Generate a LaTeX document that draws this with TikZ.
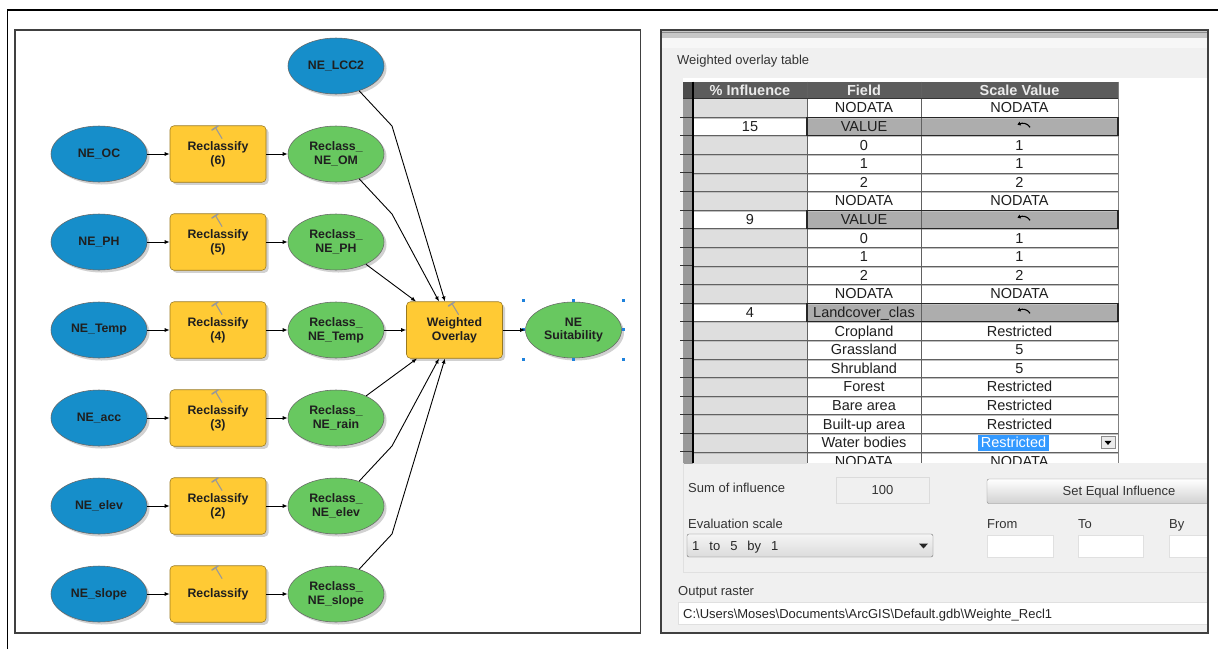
\documentclass[tikz,border=0pt]{standalone}
\usepackage{fontspec}
\setmainfont{Liberation Sans}
\usetikzlibrary{shapes.geometric,shadows,arrows.meta,calc}
\definecolor{mblue}{RGB}{22,142,202}
\definecolor{myellow}{RGB}{255,202,52}
\definecolor{mgreen}{RGB}{104,200,96}
\definecolor{selblue}{RGB}{51,153,255}
\definecolor{panelgray}{RGB}{240,240,240}
\definecolor{dotblue}{RGB}{30,130,220}
\tikzset{
  model/.style={font=\bfseries\fontsize{12.3}{13.8}\selectfont, text=black!88, align=center,
    inner sep=0pt, draw=black!60, line width=0.55pt,
    drop shadow={shadow xshift=2.5pt,shadow yshift=-2.5pt,fill=black!45,opacity=0.4}},
  dataell/.style={model, ellipse, minimum width=96pt, minimum height=56pt, fill=mblue},
  outell/.style={model, ellipse, minimum width=96pt, minimum height=56pt, fill=mgreen},
  toolbox/.style={model, rectangle, rounded corners=4pt, minimum width=96pt, minimum height=56.5pt,
    fill=myellow, draw=black!40!myellow},
  arr/.style={black, line width=0.9pt, -{Latex[length=5pt,width=4pt]}},
  cell/.style={font=\fontsize{14.5}{16}\selectfont, text=black!88, inner sep=0pt, anchor=base},
  hcell/.style={font=\bfseries\fontsize{14.5}{16}\selectfont, text=black!8, inner sep=0pt, anchor=base},
  ui/.style={font=\fontsize{13}{15}\selectfont, text=black!80, inner sep=0pt, anchor=base west},
  hdot/.style={fill=dotblue, inner sep=0pt, minimum size=3pt, rectangle},
  hammer/.style={black!40, line width=1.1pt, line cap=round},
}
\begin{document}
\begin{tikzpicture}[x=1pt,y=-1pt]
\useasboundingbox (0,0) rectangle (1218,649);
\fill[white] (0,0) rectangle (1218,649);
\draw[black, line width=1.6pt] (7.3,649) -- (7.3,10) -- (1218,10);

% ---------------- left panel: model ----------------
\draw[black!75, line width=1.1pt] (15,30) rectangle (640.5,633);

\node[dataell] (lcc) at (336,66) {NE\_LCC2};

\node[dataell] (oc)    at (99,154) {NE\_OC};
\node[dataell] (ph)    at (99,242) {NE\_PH};
\node[dataell] (temp)  at (99,330) {NE\_Temp};
\node[dataell] (acc)   at (99,418) {NE\_acc};
\node[dataell] (elev)  at (99,506) {NE\_elev};
\node[dataell] (slope) at (99,594) {NE\_slope};

\node[toolbox] (r6) at (218,154) {Reclassify\\(6)};
\node[toolbox] (r5) at (218,242) {Reclassify\\(5)};
\node[toolbox] (r4) at (218,330) {Reclassify\\(4)};
\node[toolbox] (r3) at (218,418) {Reclassify\\(3)};
\node[toolbox] (r2) at (218,506) {Reclassify\\(2)};
\node[toolbox] (r1) at (218,594) {Reclassify};

\node[outell] (om)   at (336,154) {Reclass\_\\NE\_OM};
\node[outell] (oph)  at (336,242) {Reclass\_\\NE\_PH};
\node[outell] (otmp) at (336,330) {Reclass\_\\NE\_Temp};
\node[outell] (orn)  at (336,418) {Reclass\_\\NE\_rain};
\node[outell] (oel)  at (336,506) {Reclass\_\\NE\_elev};
\node[outell] (osl)  at (336,594) {Reclass\_\\NE\_slope};

\node[toolbox] (wo) at (454.5,330) {Weighted\\Overlay};
\node[outell] (suit) at (573.5,330) {NE\\Suitability};

% hammer icons
\foreach \b in {r6,r5,r4,r3,r2,r1,wo}{
  \draw[hammer] ($(\b.north)+(-2,3)$) -- ($(\b.north)+(4,13)$);
  \draw[hammer, line width=1.6pt] ($(\b.north)+(-6,4.5)$) -- ($(\b.north)+(0,0.5)$);
}

% selection handles
\foreach \hx/\hy [count=\k] in {523/300,573/300,623/300,623/329.5,623/359,573/359,523/359,523/329.5}{
  \node[hdot] (hd\k) at (\hx,\hy) {};
}

% straight connectors
\foreach \a/\b in {oc/r6,ph/r5,temp/r4,acc/r3,elev/r2,slope/r1,
                   r6/om,r5/oph,r4/otmp,r3/orn,r2/oel,r1/osl,otmp/wo,wo/suit}{
  \draw[arr] (\a) -- (\b);
}
% bends and entry points
\coordinate (b1) at (392,126);
\coordinate (b2) at (392,214);
\coordinate (b5) at (392,446);
\coordinate (b6) at (392,534);
\coordinate (e1) at (445,301.5);
\coordinate (e2) at (439,301.5);
\coordinate (e3) at (416,301.5);
\coordinate (e4) at (417,358.5);
\coordinate (e5) at (439,358.5);
\coordinate (e6) at (445,358.5);
\draw[arr] (lcc) -- (b1) -- (e1);
\draw[arr] (om) -- (b2) -- (e2);
\draw[arr] (oph) -- (e3);
\draw[arr] (orn) -- (e4);
\draw[arr] (oel) -- (b5) -- (e5);
\draw[arr] (osl) -- (b6) -- (e6);

% ---------------- right panel: weighted overlay dialog ----------------
\begin{scope}
\clip (661,30) rectangle (1208,633);
\fill[panelgray] (661,30) rectangle (1208,633);
\fill[black!22] (661,31) rectangle (1208,38);
\draw[black!45, line width=0.8pt] (661,32) -- (1208,32);
\fill[black!3] (661,38) rectangle (1208,48);
\node[ui] (lbltab) at (677,64.5) {Weighted overlay table};

% grid control
\fill[white] (683,78) rectangle (1208,463);
\begin{scope}
\clip (679,78) rectangle (1208,463);
% header
\fill[black!70] (683,81.5) rectangle (693,98.5);
\fill[black!64] (693,81.5) rectangle (1118,98.5);
\node[hcell] (hinf) at (750,95.5) {\% Influence};
\node[hcell] (hfld) at (864,95.5) {Field};
\node[hcell] (hscl) at (1019.5,95.5) {Scale Value};
\foreach \i/\inf/\fld/\scl/\typ in {
  0//NODATA/NODATA/0, 1/15/VALUE//1, 2//0/1/0, 3//1/1/0, 4//2/2/0, 5//NODATA/NODATA/0,
  6/9/VALUE//1, 7//0/1/0, 8//1/1/0, 9//2/2/0, 10//NODATA/NODATA/0,
  11/4/Landcover\_clas//1, 12//Cropland/Restricted/0, 13//Grassland/5/0,
  14//Shrubland/5/0, 15//Forest/Restricted/0, 16//Bare area/Restricted/0,
  17//Built-up area/Restricted/0, 18//Water bodies/Restricted/2, 19//NODATA/NODATA/0}{
  \pgfmathsetmacro\yt{98.5+18.6*\i}
  \pgfmathsetmacro\yb{\yt+18.6}
  \pgfmathsetmacro\ybase{\yt+14.4}
  \fill[black!40] (683,\yt) rectangle (693,\yb);
  \ifx\inf\empty
    \fill[black!13] (693,\yt) rectangle (807,\yb);
  \else
    \fill[white] (693,\yt) rectangle (807,\yb);
    \node[cell] (p\i) at (750,\ybase) {\inf};
  \fi
  \ifnum\typ=1
    \fill[black!32] (807,\yt) rectangle (1118,\yb);
    \begin{scope}
      \clip (807,\yt) rectangle (921,\yb);
      \node[cell] (f\i) at (864,\ybase) {\fld};
    \end{scope}
    \coordinate (u\i) at (1024,\yt+8.2);
    \draw[black, line width=1.1pt, -{Triangle[length=3pt,width=4pt]}]
      ($(u\i)+(6,2)$) .. controls ($(u\i)+(3.5,-2.5)$) and ($(u\i)+(-2,-2.5)$) .. ($(u\i)+(-6.5,-0.5)$);
  \else
    \node[cell] (f\i) at (864,\ybase) {\fld};
    \ifnum\typ=2
      \fill[selblue] (978,\yt+1.2) rectangle (1049,\yb-1.4);
      \node[cell, text=white] (s\i) at (1013.5,\ybase) {\scl};
      \draw[black!45, fill=black!8] (1101,\yt+2.7) rectangle (1115,\yb-3.4);
      \fill[black] (1104.5,\yt+7.6) -- (1111.5,\yt+7.6) -- (1108,\yt+11.6) -- cycle;
    \else
      \node[cell] (s\i) at (1019.5,\ybase) {\scl};
    \fi
  \fi
}
% grid lines
\foreach \i in {0,...,19}{
  \pgfmathsetmacro\yb{98.5+18.6*(\i+1)}
  \draw[black!62, line width=0.8pt] (693,\yb) -- (1118,\yb);
  \draw[black!80, line width=1.1pt] (680,\yb) -- (693,\yb);
  \draw[black!25, line width=0.6pt] (693,\yb+1) -- (1118,\yb+1);
}
\draw[black!62, line width=0.8pt] (807,81.5) -- (807,463) (921,81.5) -- (921,463);
\draw[black!50, line width=0.8pt] (1118,81.5) -- (1118,463);
\draw[black!80, line width=0.8pt] (683,98.5) -- (1118,98.5);
\draw[black, line width=1.6pt] (693,81.5) -- (693,463);
\foreach \i in {1,6,11}{
  \pgfmathsetmacro\yt{98.5+18.6*\i}
  \draw[black!85, line width=1.2pt] (807,\yt) rectangle (1118,\yt+18.6);
}
\end{scope}

% lower controls
\draw[black!12, line width=0.8pt] (683,463) -- (683,572.5) -- (1208,572.5);
\node[ui] (lblsum) at (688,492.5) {Sum of influence};
\draw[black!14, fill=black!6] (836,477.5) rectangle (929,503.5);
\node[ui, anchor=base] (sumv) at (882.5,494.5) {100};
\shade[top color=white, bottom color=black!18, draw=black!45, rounded corners=2pt]
  (987,479) rectangle (1218,503.5);
\node[ui, anchor=base] (btn) at (1119,495.5) {Set Equal Influence};
\node[ui] (lbleval) at (688,528) {Evaluation scale};
\shade[top color=black!4, bottom color=black!14, draw=black!55, rounded corners=2pt]
  (687,534) rectangle (933,557);
\node[ui, text=black!85] (evalv) at (692,550.5) {1\hspace{10pt}to\hspace{10pt}5\hspace{10pt}by\hspace{10pt}1};
\fill[black!85] (919,543.5) -- (928,543.5) -- (923.5,548.5) -- cycle;
\node[ui] (lblfrom) at (987,528) {From};
\node[ui] (lblto) at (1078,528) {To};
\node[ui] (lblby) at (1169,528) {By};
\draw[black!12, fill=white] (987,535) rectangle (1053,557);
\draw[black!12, fill=white] (1078,535) rectangle (1143,557);
\draw[black!12, fill=white] (1169,535) rectangle (1220,557);
\node[ui] (lblout) at (678,595.5) {Output raster};
\draw[black!12, fill=white] (678,602.5) rectangle (1220,624.5);
\node[ui, text=black!85] (outp) at (683,618) {C:\textbackslash Users\textbackslash Moses\textbackslash Documents\textbackslash ArcGIS\textbackslash Default.gdb\textbackslash Weighte\_Recl1};
\end{scope}
\draw[black!75, line width=1.1pt] (661,30) rectangle (1208,633);
\end{tikzpicture}
\end{document}
